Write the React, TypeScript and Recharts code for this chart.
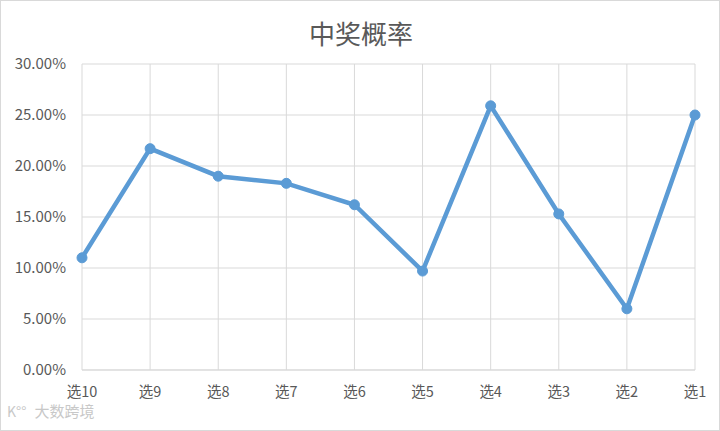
import React from "react";
import {
  LineChart,
  Line,
  XAxis,
  YAxis,
  CartesianGrid,
} from "recharts";

/* データ ------------------------------------------------------------ */
const categories = ["选10", "选9", "选8", "选7", "选6", "选5", "选4", "选3", "选2", "选1"];
const winRate = [11.0, 21.7, 19.0, 18.3, 16.2, 9.7, 25.9, 15.3, 6.0, 25.0];
const yTicks = [0, 5, 10, 15, 20, 25, 30];

const data = categories.map((c, i) => ({ name: c, rate: winRate[i] }));

const FONT = '"Noto Sans CJK SC", "Noto Sans", sans-serif';

export default function App() {
  return (
    <div
      style={{
        position: "relative",
        width: 720,
        height: 431,
        boxSizing: "border-box",
        border: "1px solid #d9d9d9",
        background: "#fff",
        fontFamily: FONT,
        overflow: "hidden",
      }}
    >
      <style>{"body{margin:0}"}</style>
      {/* タイトル */}
      <div
        style={{
          position: "absolute",
          top: 13,
          left: 0,
          width: 720,
          textAlign: "center",
          fontSize: 26,
          color: "#595959",
        }}
      >
        中奖概率
      </div>

      <div style={{ position: "absolute", left: -1, top: -1 }}>
        <LineChart
          width={720}
          height={431}
          data={data}
          margin={{ top: 64, right: 25, bottom: 31, left: 0 }}
        >
          <CartesianGrid stroke="#d9d9d9" strokeWidth={1} />
          <XAxis
            dataKey="name"
            padding={{ left: 0, right: 0 }}
            axisLine={{ stroke: "#d9d9d9" }}
            tickLine={false}
            tickMargin={11}
            height={30}
            tick={{ fill: "#595959", fontSize: 14.5, fontFamily: FONT }}
            interval={0}
          />
          <YAxis
            domain={[0, 30]}
            ticks={yTicks}
            width={82}
            axisLine={false}
            tickLine={false}
            tickMargin={10}
            tick={{ fill: "#595959", fontSize: 15, fontFamily: FONT }}
            tickFormatter={(v: number) => `${v.toFixed(2)}%`}
          />
          <Line
            type="linear"
            dataKey="rate"
            stroke="#5b9bd5"
            strokeWidth={4.5}
            dot={{ r: 5, fill: "#5b9bd5", stroke: "#5b9bd5", strokeWidth: 1 }}
            isAnimationActive={false}
          />
        </LineChart>
      </div>

      {/* 透かし */}
      <div
        style={{
          position: "absolute",
          left: 6,
          top: 399,
          fontSize: 15,
          color: "#c8c8c8",
        }}
      >
        <span style={{ fontSize: 14, marginRight: 8 }}>K°°</span>
        大数跨境
      </div>
    </div>
  );
}
